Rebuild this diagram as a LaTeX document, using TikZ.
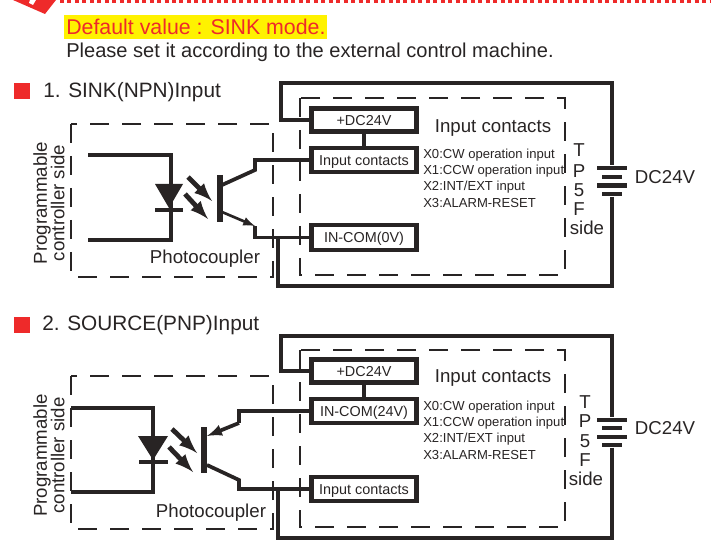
\documentclass[tikz,border=0pt]{standalone}
\usepackage{fontspec}
\setmainfont{Liberation Sans}
\usetikzlibrary{positioning}
\definecolor{markred}{RGB}{238,42,42}
\definecolor{inkgray}{RGB}{40,36,36}
\tikzstyle{wire} = [line width=3.3pt,draw=inkgray,line join=miter]
\tikzstyle{thinwire} = [line width=2.8pt,draw=inkgray]
\tikzstyle{dashbox} = [line width=2.2pt,draw=inkgray,dash pattern=on 14pt off 10pt]
\tikzstyle{ctbox} = [draw=inkgray,line width=3.3pt,minimum width=79pt,inner sep=0pt,text height=7.6pt,text depth=0pt,font=\fontsize{10.8}{12}\selectfont,text=inkgray]
\tikzstyle{longbar} = [fill=inkgray,minimum width=23pt,minimum height=3.7pt,inner sep=0pt]
\tikzstyle{shortbar} = [fill=inkgray,minimum width=15pt,minimum height=3.7pt,inner sep=0pt]
\tikzstyle{txt} = [text=inkgray,inner sep=0pt]
\tikzstyle{bigtxt} = [txt,font=\fontsize{15.05}{16}\selectfont]
\tikzstyle{titletxt} = [txt,anchor=west,font=\fontsize{15.6}{17}\selectfont]
\tikzstyle{midtxt} = [txt,font=\fontsize{14}{16}\selectfont]
\tikzstyle{listtxt} = [txt,anchor=west,font=\fontsize{9.8}{11}\selectfont]
\tikzstyle{side} = [txt,rotate=90,align=center,font=\fontsize{14}{13.2}\selectfont]
\tikzstyle{opto} = [line width=3.6pt,draw=inkgray,-latex]
\begin{document}
\begin{tikzpicture}[x=0.75pt,y=-0.75pt]
\useasboundingbox (0,0) rectangle (711,549);
% header
\fill[markred] (13,0) -- (56,0) -- (45,14) -- cycle;
\fill[white] (30,0) -- (36,0) -- (33,5) -- (29,3) -- cycle;
\draw[markred,line width=2.2pt,dash pattern=on 3pt off 2.6pt] (60,1.5) -- (711,1.5);
\fill[yellow] (64,15) rectangle (327,39);
\node[txt,anchor=west,text=markred,font=\fontsize{16}{18}\selectfont] (deflt) at (66,27) {Default value : SINK mode.};
\node[bigtxt,anchor=west] (please) at (66,52) {Please set it according to the external control machine.};

% 1. sink
\fill[markred] (14,83) rectangle (30,99);
\node[titletxt] (title1) at (43,92) {1. SINK(NPN)Input};
\draw[dashbox] (71,124) rectangle (273,277);
\draw[dashbox] (300,98) rectangle (565,275);
\node[ctbox,minimum height=17pt] (dc1) at (364,120) {+DC24V};
\node[ctbox,minimum height=18pt] (in1) at (364,160) {Input contacts};
\node[ctbox,minimum height=19pt] (com1) at (364,237.5) {IN-COM(0V)};
\node[side] (plc1) at (49,203) {Programmable\\controller side};
\node[midtxt] (ph1) at (205,259) {Photocoupler};
\node[midtxt] (ic1) at (493,128.5) {Input contacts};
\node[listtxt] (x01) at (423,155) {X0:CW operation input};
\node[listtxt] (x11) at (423,171) {X1:CCW operation input};
\node[listtxt] (x21) at (423,187) {X2:INT/EXT input};
\node[listtxt] (x31) at (423,203) {X3:ALARM-RESET};
\node[midtxt] (t1) at (579,150) {T};
\node[midtxt] (p1) at (579,171) {P};
\node[midtxt] (n1) at (579,190) {5};
\node[midtxt] (f1) at (579,209) {F};
\node[midtxt] (s1) at (587,228) {side};
\node[midtxt] (v1) at (665,177) {DC24V};
\node[longbar] (ba1) at (612,168) {};
\node[shortbar] (bb1) at (612,177) {};
\node[longbar] (bc1) at (612,185.5) {};
\node[shortbar] (bd1) at (612,194) {};
\coordinate (tl1) at (281,83);
\coordinate (bl1) at (278,286);
\coordinate (jn1) at (278,237);
\coordinate (ca1) at (255,170);
\coordinate (ea1) at (255,226);
% wires
\draw[wire] (dc1.west) -| (tl1) -| (ba1.north);
\draw[wire] (bd1.south) |- (bl1) -- (jn1);
\draw[wire] (dc1.south) -- (in1.north);
\draw[thinwire] (in1.west) -| (ca1) -- (222,185);
\draw[thinwire] (com1.west) -| (ea1);
\draw[line width=2pt,draw=inkgray,-latex] (222,212) -- (ea1);
% led
\draw[wire] (88,155) -- (171,155) -- (171,240) -- (88,240);
\fill[inkgray] (155,184) -- (183,184) -- (169,208) -- cycle;
\draw[wire] (155,210) -- (183,210);
\draw[opto] (188,177) -- (212,201);
\draw[opto] (185,194) -- (208,219);
\draw[line width=3.8pt,draw=inkgray] (220,175) -- (220,222);

% 2. source
\fill[markred] (14,317) rectangle (30,333);
\node[titletxt] (title2) at (42,325) {2. SOURCE(PNP)Input};
\draw[dashbox] (71,376) rectangle (273,529);
\draw[dashbox] (300,350) rectangle (565,527);
\node[ctbox,minimum height=17pt] (dc2) at (364,371) {+DC24V};
\node[ctbox,minimum height=18pt] (in2) at (364,411) {IN-COM(24V)};
\node[ctbox,minimum height=18pt] (com2) at (364,489) {Input contacts};
\node[side] (plc2) at (49,455.5) {Programmable\\controller side};
\node[midtxt] (ph2) at (211,513) {Photocoupler};
\node[midtxt] (ic2) at (493,378.5) {Input contacts};
\node[listtxt] (x02) at (423,407) {X0:CW operation input};
\node[listtxt] (x12) at (423,423) {X1:CCW operation input};
\node[listtxt] (x22) at (423,439) {X2:INT/EXT input};
\node[listtxt] (x32) at (423,455) {X3:ALARM-RESET};
\node[midtxt] (t2) at (585,402) {T};
\node[midtxt] (p2) at (585,421) {P};
\node[midtxt] (n2) at (585,441) {5};
\node[midtxt] (f2) at (585,460.5) {F};
\node[midtxt] (s2) at (586,479) {side};
\node[midtxt] (v2) at (665,428) {DC24V};
\node[longbar] (ba2) at (612,420) {};
\node[shortbar] (bb2) at (612,428) {};
\node[longbar] (bc2) at (612,437) {};
\node[shortbar] (bd2) at (612,445) {};
\coordinate (tl2) at (281,336);
\coordinate (bl2) at (278,538);
\coordinate (jn2) at (278,490);
\coordinate (ea2) at (239,423);
\coordinate (ca2) at (239,480);
% wires
\draw[wire] (dc2.west) -| (tl2) -| (ba2.north);
\draw[wire] (bd2.south) |- (bl2) -- (jn2);
\draw[wire] (dc2.south) -- (in2.north);
\draw[thinwire] (in2.west) -| (ea2);
\draw[thinwire,-latex] (ea2) -- (207,436);
\draw[thinwire] (com2.west) -| (ca2) -- (207,465);
% led
\draw[wire] (71,408) -- (153,408) -- (153,492) -- (71,492);
\fill[inkgray] (138,436) -- (168,436) -- (153,460) -- cycle;
\draw[wire] (139,462) -- (168,462);
\draw[opto] (172,429) -- (197,453);
\draw[opto] (169,447) -- (193,472);
\draw[line width=3.8pt,draw=inkgray] (204,427) -- (204,473);
\end{tikzpicture}
\end{document}
